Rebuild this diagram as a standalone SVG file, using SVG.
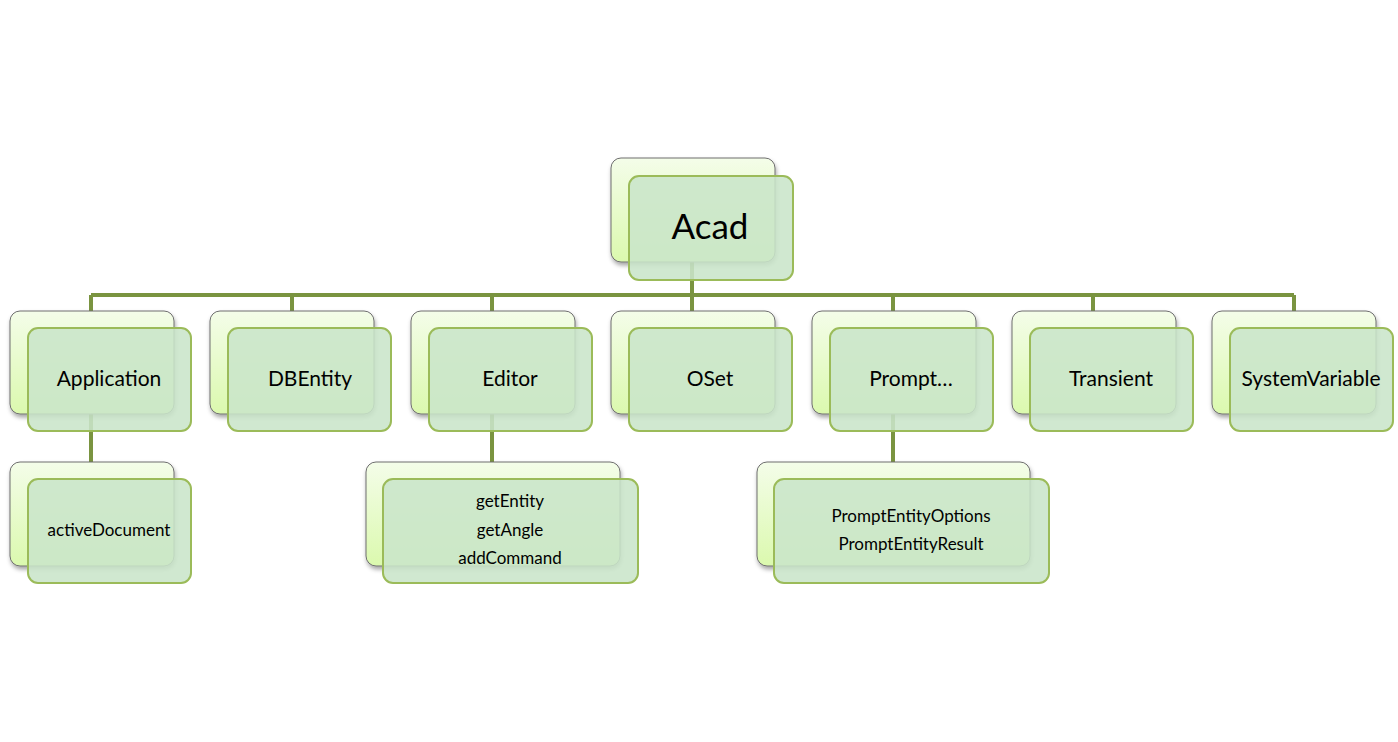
<svg xmlns="http://www.w3.org/2000/svg" width="1398" height="742" viewBox="0 0 1398 742">
<defs>
<linearGradient id="bg" x1="0" y1="0" x2="0" y2="1">
<stop offset="0" stop-color="#f4fde9"/>
<stop offset="1" stop-color="#dbf9ae"/>
</linearGradient>
<filter id="sh" x="-10%" y="-10%" width="125%" height="130%">
<feDropShadow dx="1" dy="3" stdDeviation="2" flood-color="#000" flood-opacity="0.35"/>
</filter>
<style>
.back{fill:url(#bg);stroke:#6e6e6e;stroke-width:1;filter:url(#sh)}
.front{fill:#c9e5c9;fill-opacity:0.88;stroke:#9bbb59;stroke-width:2}
.conn{stroke:#7a9440;stroke-width:4;fill:none}
.t{font-family:Lato,"Open Sans",sans-serif;fill:#000;text-anchor:middle}
.t1{font-size:21px}
.t2{font-size:17px}
</style>
</defs>
<rect width="1398" height="742" fill="#fff"/>
<g id="connectors">
<path class="conn" d="M692 262V295M91 295H1294M91 295V311M292 295V311M492 295V311M692 295V311M893 295V311M1093 295V311M1294 295V311M91 414V462M492 414V462M893 414V462"/>
</g>
<g id="acad">
<rect class="back" x="611" y="158" width="164" height="104" rx="10"/>
<rect class="front" x="629" y="176" width="164" height="104" rx="10"/>
<text class="t" x="710" y="239" font-size="35">Acad</text>
</g>
<g id="application">
<rect class="back" x="10" y="311" width="164" height="103" rx="10"/>
<rect class="front" x="28" y="328" width="163" height="103" rx="10"/>
<text class="t t1" x="109" y="386">Application</text>
</g>
<g id="dbentity">
<rect class="back" x="210" y="311" width="164" height="103" rx="10"/>
<rect class="front" x="228" y="328" width="163" height="103" rx="10"/>
<text class="t t1" x="310" y="386">DBEntity</text>
</g>
<g id="editor">
<rect class="back" x="411" y="311" width="164" height="103" rx="10"/>
<rect class="front" x="429" y="328" width="163" height="103" rx="10"/>
<text class="t t1" x="510" y="386">Editor</text>
</g>
<g id="oset">
<rect class="back" x="611" y="311" width="164" height="103" rx="10"/>
<rect class="front" x="629" y="328" width="163" height="103" rx="10"/>
<text class="t t1" x="710" y="386">OSet</text>
</g>
<g id="prompt">
<rect class="back" x="812" y="311" width="164" height="103" rx="10"/>
<rect class="front" x="830" y="328" width="163" height="103" rx="10"/>
<text class="t t1" x="911" y="386">Prompt…</text>
</g>
<g id="transient">
<rect class="back" x="1012" y="311" width="164" height="103" rx="10"/>
<rect class="front" x="1030" y="328" width="163" height="103" rx="10"/>
<text class="t t1" x="1111" y="386">Transient</text>
</g>
<g id="systemvariable">
<rect class="back" x="1212" y="311" width="164" height="103" rx="10"/>
<rect class="front" x="1230" y="328" width="163" height="103" rx="10"/>
<text class="t t1" x="1311" y="386">SystemVariable</text>
</g>
<g id="activedocument">
<rect class="back" x="10" y="462" width="164" height="104" rx="10"/>
<rect class="front" x="28" y="479" width="163" height="104" rx="10"/>
<text class="t t2" x="109" y="536">activeDocument</text>
</g>
<g id="editor-members">
<rect class="back" x="366" y="462" width="254" height="104" rx="10"/>
<rect class="front" x="383" y="479" width="255" height="104" rx="10"/>
<text class="t t2" x="510" y="507">getEntity</text>
<text class="t t2" x="510" y="536">getAngle</text>
<text class="t t2" x="510" y="564">addCommand</text>
</g>
<g id="prompt-members">
<rect class="back" x="757" y="462" width="273" height="104" rx="10"/>
<rect class="front" x="774" y="479" width="275" height="104" rx="10"/>
<text class="t t2" x="911" y="522">PromptEntityOptions</text>
<text class="t t2" x="911" y="550">PromptEntityResult</text>
</g>
</svg>
